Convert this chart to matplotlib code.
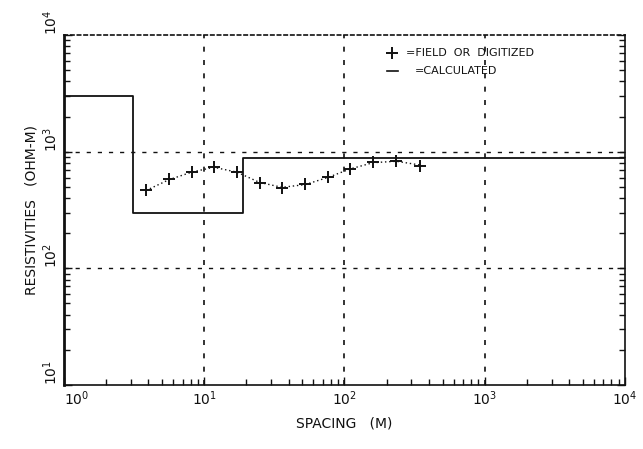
import matplotlib
matplotlib.use("Agg")
import matplotlib.pyplot as plt
from matplotlib.ticker import LogLocator, NullFormatter, FixedLocator

# layered model (step curve): layer boundaries (m) and resistivities (ohm-m)
model_depths = [1.0, 3.1, 19.0, 10000.0]
model_rho = [3000.0, 300.0, 880.0]

spacing = [3.85, 5.6, 8.2, 11.7, 17.1, 24.8, 35.9, 52.4, 76.5, 110, 160, 234, 343]
rho_field = [469, 580, 673, 743, 664, 542, 493, 524, 601, 709, 809, 830, 757]

# calculated response
rho_calc = [465, 575, 670, 735, 668, 545, 495, 522, 603, 712, 805, 828, 770]

x_ticks = [1, 10, 100, 1000, 10000]
x_tick_labels = ["$10^0$", "$10^1$", "$10^2$", "$10^3$", "$10^4$"]
y_ticks = [10, 100, 1000, 10000]
y_tick_labels = ["$10^1$", "$10^2$", "$10^3$", "$10^4$"]

ink = "#111111"
plt.rcParams['font.family'] = ['DejaVu Sans']
plt.rcParams['mathtext.fontset'] = 'dejavusans'

fig = plt.figure(figsize=(6.43, 4.49), dpi=100)
ax = fig.add_axes([0.0995, 0.1425, 0.8725, 0.7795])
ax.set_xscale("log")
ax.set_yscale("log")
ax.set_xlim(1, 10000)
ax.set_ylim(10, 10000)

# decade grid, dashed
for xv in x_ticks[1:-1]:
    ax.axvline(xv, color=ink, ls=(0, (3, 5)), lw=1.2)
for yv in y_ticks[1:-1]:
    ax.axhline(yv, color=ink, ls=(0, (3, 5)), lw=1.0)

# model step curve
step_x = []
step_y = []
for i, r in enumerate(model_rho):
    step_x += [model_depths[i], model_depths[i + 1]]
    step_y += [r, r]
ax.plot(step_x, step_y, color=ink, lw=1.3)

# calculated curve
ax.plot(spacing, rho_calc, color=ink, ls=(0, (1, 2)), lw=1.0)
# field points
ax.plot(spacing, rho_field, ls="none", marker="+", ms=9, mew=1.4, color=ink)

ax.xaxis.set_major_locator(FixedLocator(x_ticks))
ax.yaxis.set_major_locator(FixedLocator(y_ticks))
ax.set_xticklabels(x_tick_labels)
ax.set_yticklabels(y_tick_labels, rotation=90, va="bottom")
ax.get_xticklabels()[0].set_ha("left")
ax.xaxis.set_minor_locator(LogLocator(base=10, subs=range(2, 10)))
ax.yaxis.set_minor_locator(LogLocator(base=10, subs=range(2, 10)))
ax.xaxis.set_minor_formatter(NullFormatter())
ax.yaxis.set_minor_formatter(NullFormatter())
ax.tick_params(which="both", direction="in", top=False, right=True, colors=ink,
               labelsize=10)
ax.tick_params(which="major", length=6, width=1)
ax.tick_params(which="minor", length=4, width=1)
ax.tick_params(axis="y", pad=3)

for s in ax.spines.values():
    s.set_color(ink)
    s.set_linewidth(1.2)
ax.spines["left"].set_linewidth(2.0)
ax.spines["top"].set_linestyle((0, (2, 2)))

ax.set_xlabel("SPACING   (M)", fontsize=10, color=ink, labelpad=6)
ax.set_ylabel("RESISTIVITIES   (OHM-M)", fontsize=10, color=ink, labelpad=2)

# legend as text
ax.plot([0.585], [0.95], transform=ax.transAxes, marker="+", ms=9, mew=1.4,
        color=ink, ls="none")
ax.text(0.61, 0.95, "=FIELD  OR  DIGITIZED", transform=ax.transAxes,
        fontsize=8, va="center", color=ink)
ax.plot([0.575, 0.595], [0.898, 0.898], transform=ax.transAxes, color=ink, lw=1.2)
ax.text(0.625, 0.898, "=CALCULATED", transform=ax.transAxes,
        fontsize=8, va="center", color=ink)

fig.savefig("out.png", dpi=100, facecolor="white")
